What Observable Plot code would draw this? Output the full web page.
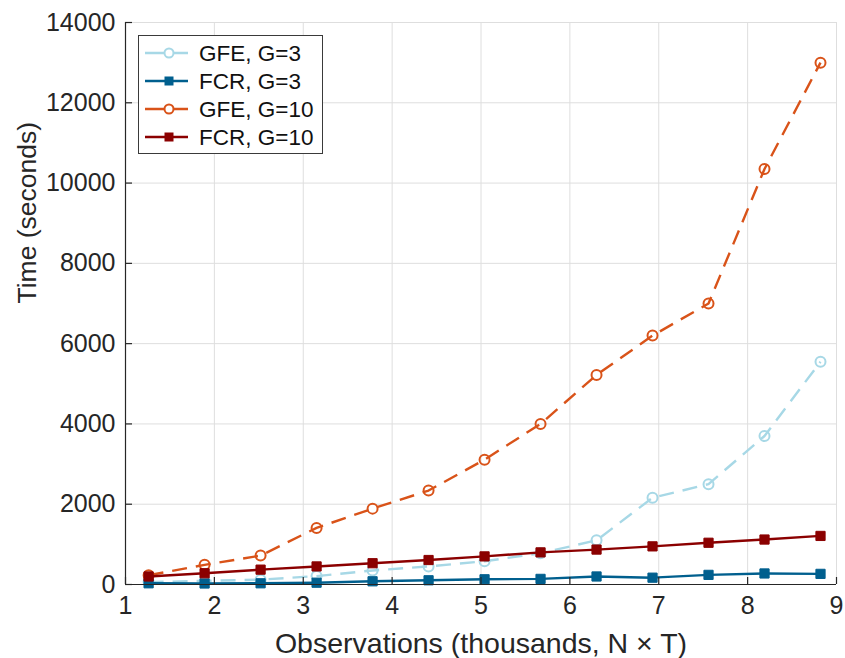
<!DOCTYPE html>
<html><head><meta charset="utf-8">
<script src="https://cdn.jsdelivr.net/npm/d3@7"></script>
<script src="https://cdn.jsdelivr.net/npm/@observablehq/plot@0.6"></script>
<style>
body{margin:0;background:#fff}
#wrap{position:relative;width:845px;height:658px;font-family:"Liberation Sans",Arial,sans-serif}
#legend{position:absolute;left:138px;top:35px}
</style>
</head><body><div id="wrap"></div>
<script>
// Observations (thousands, N x T)
const obs = [1.26, 1.89, 2.52, 3.15, 3.78, 4.41, 5.04, 5.67, 6.30, 6.93, 7.56, 8.19, 8.82];
// Time (seconds)
const gfeG3  = [60, 90, 120, 210, 350, 450, 580, 780, 1100, 2160, 2500, 3700, 5550];
const fcrG3  = [30, 25, 30, 45, 80, 105, 130, 140, 200, 170, 240, 275, 265];
const gfeG10 = [230, 490, 720, 1410, 1890, 2340, 3110, 4000, 5220, 6200, 7000, 10350, 13000];
const fcrG10 = [200, 280, 370, 450, 530, 610, 700, 800, 870, 950, 1040, 1120, 1210];
const seriesNames = ["GFE, G=3", "FCR, G=3", "GFE, G=10", "FCR, G=10"];
const xTicks = [1, 2, 3, 4, 5, 6, 7, 8, 9];
const yTicks = [0, 2000, 4000, 6000, 8000, 10000, 12000, 14000];

const styles = [
  {color: "#a7d8e6", dash: "15,9", symbol: "circle"},
  {color: "#005f8e", dash: null,   symbol: "square"},
  {color: "#d95319", dash: "15,9", symbol: "circle"},
  {color: "#8b0000", dash: null,   symbol: "square"}
];
const values = [gfeG3, fcrG3, gfeG10, fcrG10];
const series = seriesNames.map((name, k) => ({
  name, ...styles[k],
  data: obs.map((x, i) => ({x, y: values[k][i]}))
}));

const W = 845, H = 658;
const mL = 125, mR = 9, mT = 22, mB = 74;
const fw = W - mL - mR, fh = H - mT - mB;
const ink = "#262626";

const marks = [
  Plot.gridX(xTicks, {stroke: "#dedede", strokeOpacity: 1, strokeWidth: 1}),
  Plot.gridY(yTicks, {stroke: "#dedede", strokeOpacity: 1, strokeWidth: 1}),
];
for (const s of series) {
  marks.push(Plot.line(s.data, {x: "x", y: "y", stroke: s.color, strokeWidth: 2.4,
    strokeDasharray: s.dash ?? undefined, strokeLinejoin: "round", strokeLinecap: "butt"}));
  if (s.symbol === "circle") {
    marks.push(Plot.dot(s.data, {x: "x", y: "y", r: 5, symbol: "circle", stroke: s.color, strokeWidth: 2, fill: "none"}));
  } else {
    marks.push(Plot.dot(s.data, {x: "x", y: "y", r: 5.2, symbol: "square", fill: s.color, stroke: s.color, strokeWidth: 1}));
  }
}
marks.push(
  Plot.ruleX([xTicks[0]], {stroke: ink, strokeWidth: 1.2}),
  Plot.ruleY([yTicks[0]], {stroke: ink, strokeWidth: 1.2}),
  Plot.tickX(xTicks, {x: d => d, stroke: ink, strokeWidth: 1.2, insetTop: fh - 7}),
  Plot.tickY(yTicks, {y: d => d, stroke: ink, strokeWidth: 1.2, insetRight: fw - 7}),
  Plot.axisX(xTicks, {tickSize: 0, tickPadding: 12, fontSize: 25, fill: ink, label: null, tickFormat: d => String(d)}),
  Plot.axisY(yTicks, {tickSize: 0, tickPadding: 10, fontSize: 25, fill: ink, label: null, tickFormat: d => String(d)}),
  Plot.text(["Observations (thousands, N × T)"], {frameAnchor: "bottom", text: d => d, dy: 59, fontSize: 28.5, fill: ink, lineAnchor: "middle"}),
  Plot.text(["Time (seconds)"], {frameAnchor: "left", text: d => d, rotate: -90, dx: -98, dy: 0, fontSize: 26.5, fill: ink, lineAnchor: "middle"})
);

const chart = Plot.plot({
  width: W, height: H,
  marginLeft: mL, marginRight: mR, marginTop: mT, marginBottom: mB,
  x: {domain: [1, 9]},
  y: {domain: [0, 14000]},
  style: {fontFamily: '"Liberation Sans", Arial, sans-serif', background: "#fff", overflow: "visible"},
  marks
});
const wrap = document.getElementById("wrap");
wrap.appendChild(chart);

// Legend (inside plot, top-left)
const lw = 184, lh = 118, rowH = 28;
const leg = d3.select(wrap).append("svg").attr("id", "legend").attr("width", lw + 2).attr("height", lh + 2);
leg.append("rect").attr("x", 0.5).attr("y", 0.5).attr("width", lw).attr("height", lh)
  .attr("fill", "#fff").attr("stroke", "#3a3a3a").attr("stroke-width", 1);
const rows = leg.selectAll("g").data(series).join("g")
  .attr("transform", (d, i) => `translate(0,${18 + i * rowH})`);
rows.append("line").attr("x1", 7).attr("x2", 50).attr("y1", 0).attr("y2", 0)
  .attr("stroke", d => d.color).attr("stroke-width", 2.4);
rows.each(function(d) {
  const g = d3.select(this);
  if (d.symbol === "circle") {
    g.append("circle").attr("cx", 31).attr("cy", 0).attr("r", 4.5)
      .attr("fill", "#fff").attr("stroke", d.color).attr("stroke-width", 2);
  } else {
    g.append("rect").attr("x", 26.5).attr("y", -4.5).attr("width", 9).attr("height", 9).attr("fill", d.color);
  }
});
rows.append("text").attr("x", 61).attr("y", 0).attr("dy", "0.36em")
  .attr("font-size", 22.5).attr("fill", "#111").attr("font-family", '"Liberation Sans", Arial, sans-serif')
  .text(d => d.name);
</script>
</body></html>
